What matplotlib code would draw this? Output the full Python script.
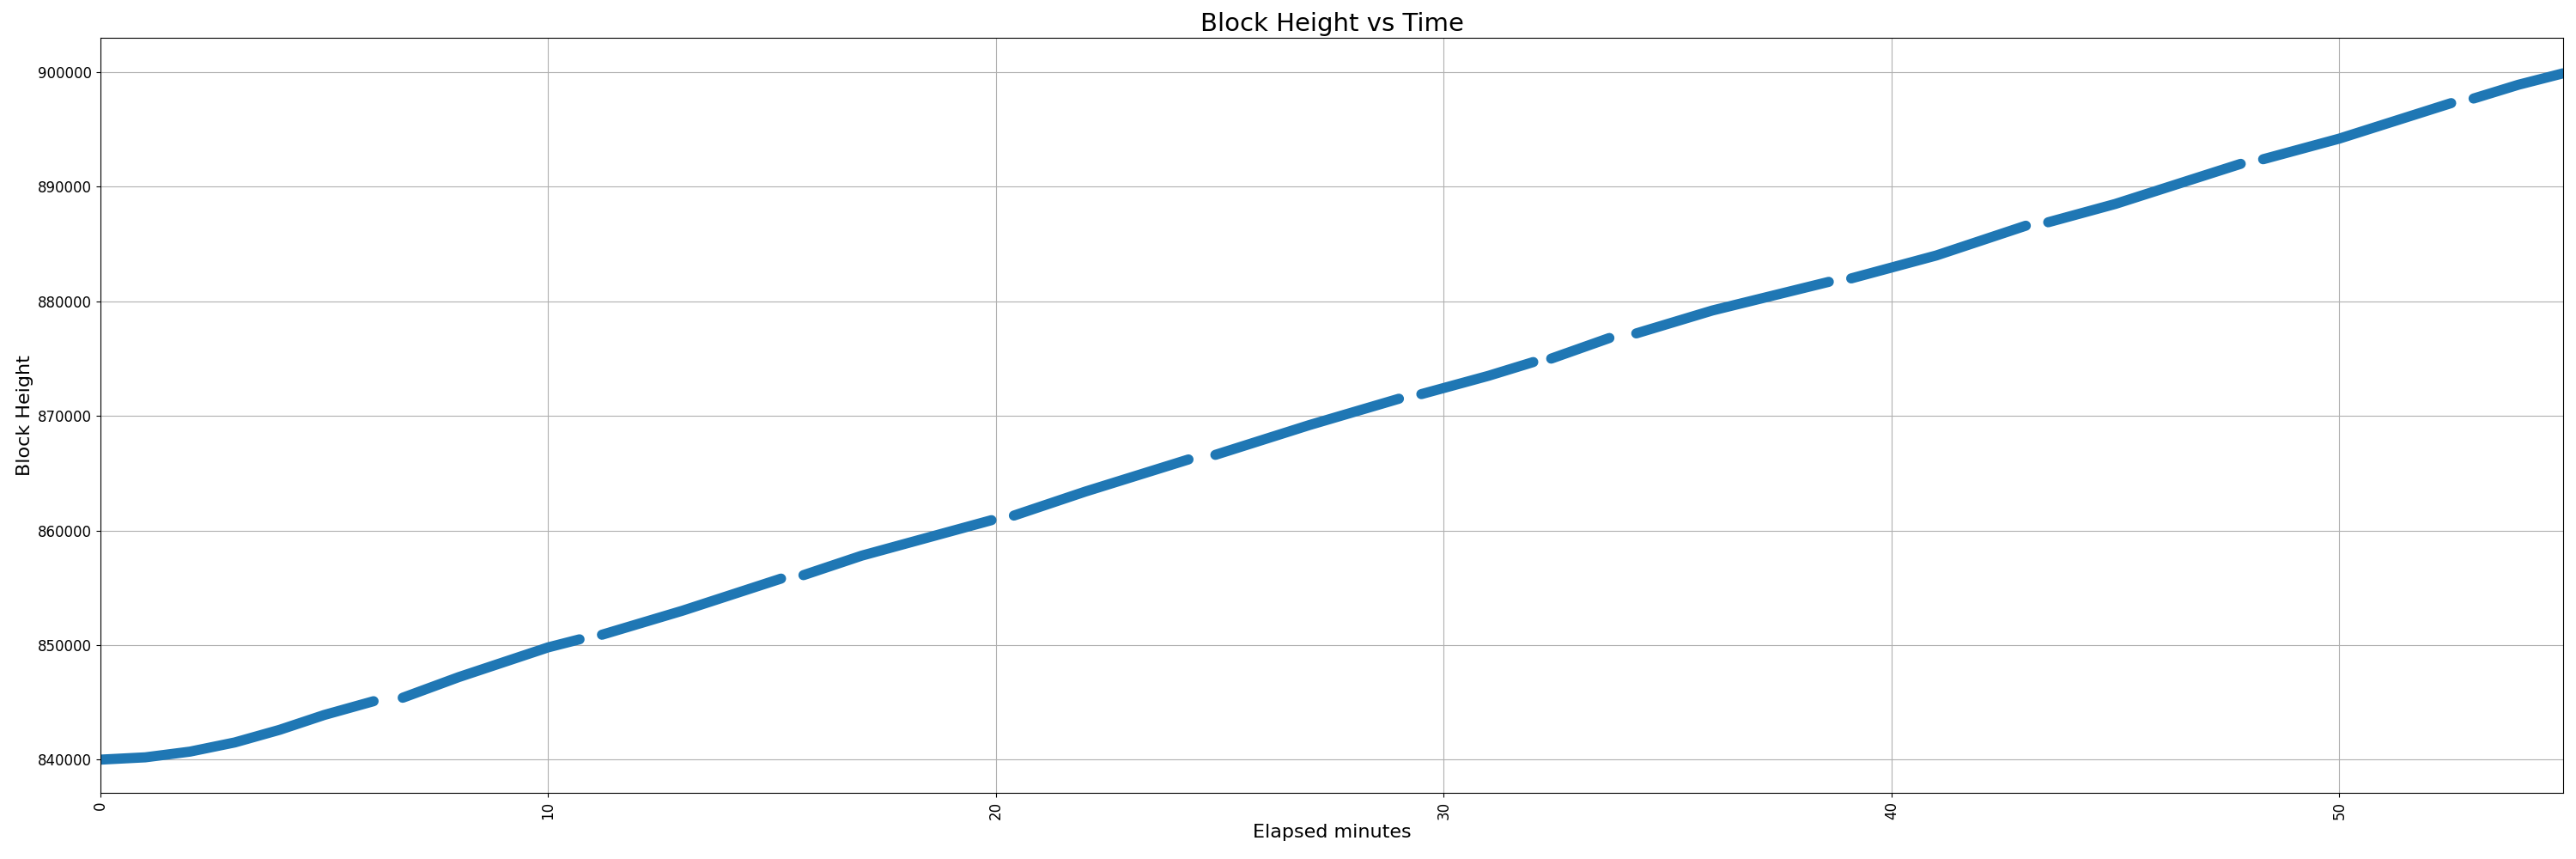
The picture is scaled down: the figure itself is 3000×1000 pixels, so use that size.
import matplotlib
matplotlib.use("Agg")
import matplotlib.pyplot as plt

# segments of (elapsed minutes, block height)
seg_minutes = [
    [0, 1, 2, 3, 4, 5, 6.1],
    [6.75, 8, 10, 10.7],
    [11.2, 13, 15.2],
    [15.7, 17, 19.9],
    [20.4, 22, 24.3],
    [24.9, 27, 29.0],
    [29.5, 31, 32.0],
    [32.4, 33.7],
    [34.3, 36, 38.6],
    [39.1, 41, 43.0],
    [43.5, 45, 47, 47.8],
    [48.3, 50, 52.5],
    [53.0, 54, 55],
]
seg_heights = [
    [840000, 840200, 840700, 841500, 842600, 843900, 845100],
    [845400, 847200, 849800, 850500],
    [850900, 853000, 855800],
    [856100, 857800, 860900],
    [861300, 863400, 866200],
    [866600, 869200, 871500],
    [871900, 873500, 874700],
    [875000, 876800],
    [877200, 879200, 881700],
    [882000, 884000, 886600],
    [886900, 888500, 891000, 892000],
    [892400, 894200, 897300],
    [897700, 898900, 899900],
]
x_ticks = [0, 10, 20, 30, 40, 50]
y_ticks = [840000, 850000, 860000, 870000, 880000, 890000, 900000]

fig = plt.figure(figsize=(30, 10), dpi=100)
ax = fig.add_axes([0.039, 0.077, 0.956, 0.879])
for xs, ys in zip(seg_minutes, seg_heights):
    ax.plot(xs, ys, color="#1f77b4", lw=8.5, solid_capstyle="round")
ax.set_xlim(0, 55)
ax.set_ylim(837100, 903000)
ax.set_xticks(x_ticks)
ax.set_yticks(y_ticks)
ax.tick_params(axis="x", labelrotation=90, labelsize=12)
ax.tick_params(axis="y", labelsize=12)
ax.grid(True)
ax.set_title("Block Height vs Time", fontsize=21)
ax.set_xlabel("Elapsed minutes", fontsize=16)
ax.set_ylabel("Block Height", fontsize=16)
fig.savefig("out.png")
